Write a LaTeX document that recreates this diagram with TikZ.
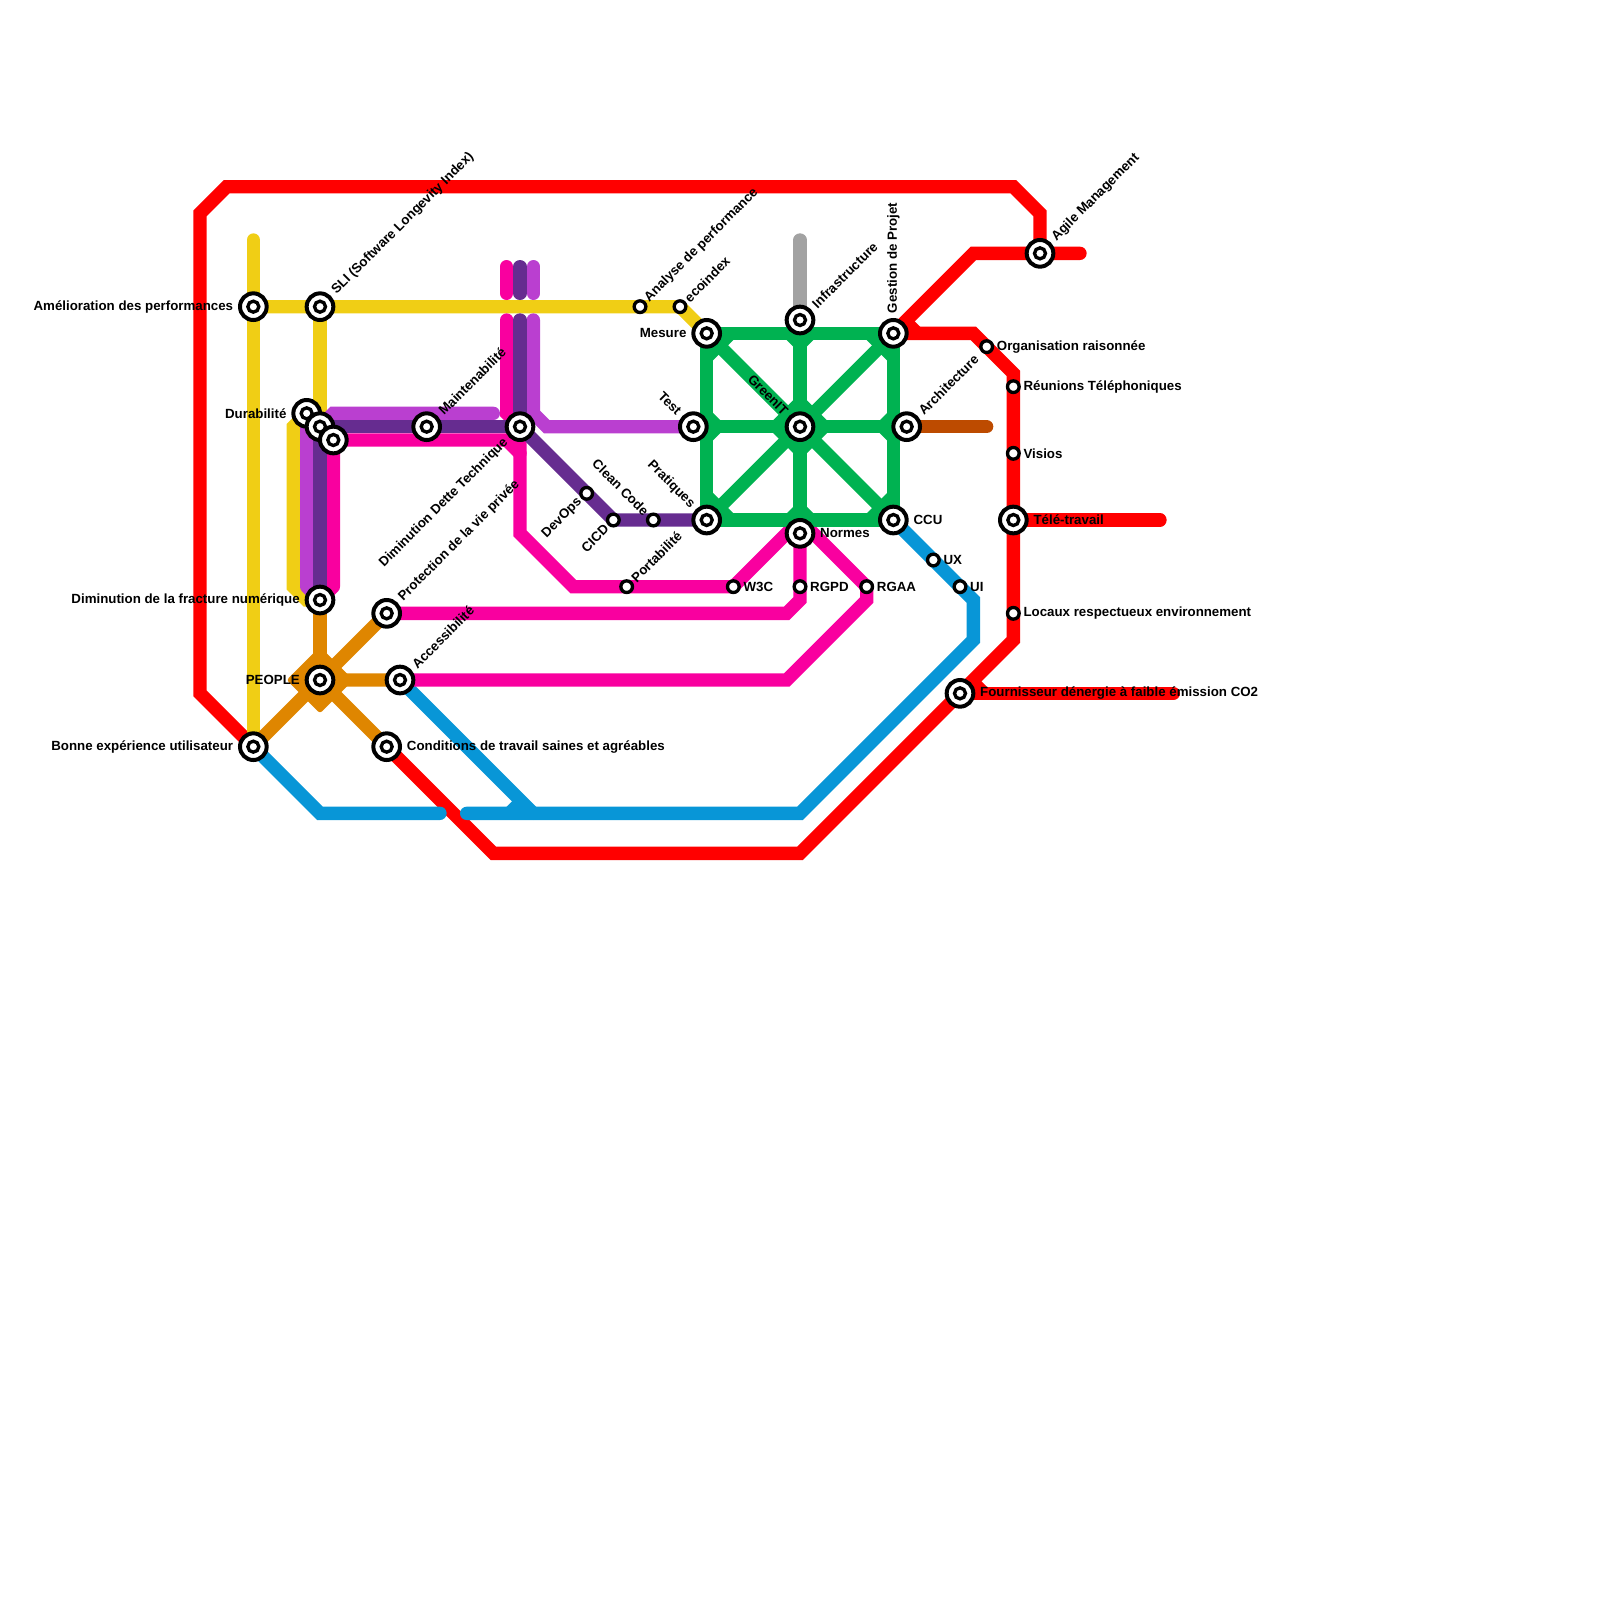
\documentclass[tikz,border=0pt]{standalone}
\usepackage{fontspec}
\setmainfont{Liberation Sans}
\usetikzlibrary{positioning,calc}
\definecolor{mapred}{HTML}{FF0000}
\definecolor{mapyellow}{HTML}{F0CE15}
\definecolor{maplilac}{HTML}{BA3FD0}
\definecolor{mapviolet}{HTML}{662C90}
\definecolor{mappink}{HTML}{F9009F}
\definecolor{mapblue}{HTML}{0896D7}
\definecolor{mapgreen}{HTML}{00B251}
\definecolor{maporange}{HTML}{DF8600}
\definecolor{mapbrown}{HTML}{BD4B00}
\definecolor{mapgrey}{HTML}{A2A2A2}
\pgfdeclarelayer{lines}
\pgfsetlayers{lines,main}
\tikzset{
  hub/.style={circle,draw=black,fill=white,line width=.12cm,minimum size=.8cm,inner sep=0pt,outer sep=0pt,
    path picture={\draw[line width=.1cm] (path picture bounding box.center) circle (.165cm);}},
  halt/.style={circle,draw=black,fill=white,line width=.1cm,minimum size=.35cm,inner sep=0pt,outer sep=0pt},
  track/.style={line width=.4cm,line cap=round},
  lab/.style={font=\bfseries\fontsize{11.35}{13}\selectfont,inner sep=0pt,text=black},
  hubright/.style={lab,anchor=west,xshift=.6cm},
  haltright/.style={lab,anchor=west,xshift=.3cm},
  hubleft/.style={lab,anchor=east,xshift=-.6cm},
  hubne/.style={lab,xshift=.42cm,yshift=.42cm,rotate=45,anchor=west},
  haltne/.style={lab,xshift=.2cm,yshift=.2cm,rotate=45,anchor=west},
  hubsw/.style={lab,xshift=-.42cm,yshift=-.42cm,rotate=45,anchor=east},
  haltsw/.style={lab,xshift=-.2cm,yshift=-.2cm,rotate=45,anchor=east},
  hubnw/.style={lab,xshift=-.42cm,yshift=.42cm,rotate=-45,anchor=east},
  haltnw/.style={lab,xshift=-.2cm,yshift=.2cm,rotate=-45,anchor=east}
}
\begin{document}
\begin{tikzpicture}[x=.4cm,y=-.4cm]
  \useasboundingbox (0,0) rectangle (120,120);

  % stations, grid of 120 x 120
  \foreach \n/\x/\y in {perf/19/23,sli/24/23,durab/23/31,dette/24/32,vie/25/33,maint/32/32,
      techn/39/32,fract/24/45,priv/29/46,people/24/51,acces/30/51,bonne/19/56,cond/29/56,
      test/52/32,mesure/53/25,prat/53/39,infra/60/24,green/60/32,normes/60/40,projet/67/25,
      archi/68/32,ccu/67/39,agile/78/19,tele/76/39,fourn/72/52}
    \node[hub] (\n) at (\x,\y) {};
  \foreach \n/\x/\y in {analyse/48/23,ecoin/51/23,devops/44/37,cicd/46/39,clean/49/39,
      porta/47/44,wtroisc/55/44,rgpd/60/44,rgaa/65/44,ux/70/42,ui/72/44,orga/74/26,
      reun/76/29,visio/76/34,locaux/76/46}
    \node[halt] (\n) at (\x,\y) {};

  \begin{pgfonlayer}{lines}
    % red
    \draw[track,mapred] (agile.center) -- (78,16) -- (76,14) -- (17,14) -- (15,16) -- (15,52) -- (bonne.center);
    \draw[track,mapred] (cond.center) -- (37,64) -- (60,64) -- (fourn.center) -- (76,48) -- (76,28) -- (73,25) -- (projet.center);
    \draw[track,mapred] (projet.center) -- (73,19) -- (81,19);
    \draw[track,mapred] (tele.center) -- (87,39);
    \draw[track,mapred] (fourn.center) -- (88,52);
    \fill[mapred] (projet.center) -- (68.25,23.75) -- (69.5,25) -- cycle;
    \fill[mapred] (fourn.center) -- (73.25,50.75) -- (74.5,52) -- cycle;

    % yellow
    \draw[track,mapyellow] (19,18) -- (bonne.center);
    \draw[track,mapyellow] (perf.center) -- (ecoin.center) -- (mesure.center);
    \draw[track,mapyellow] (sli.center) -- (dette.center);
    \draw[track,mapyellow] (durab.center) -- (22,32) -- (22,44) -- (23,45) -- (fract.center);

    % blue
    \draw[track,mapblue] (bonne.center) -- (24,61) -- (33,61);
    \draw[track,mapblue] (35,61) -- (60,61) -- (73,48) -- (73,45) -- (ccu.center);
    \draw[track,mapblue] (acces.center) -- (40,61);
    \fill[mapblue] (37.5,61) -- (38.75,59.75) -- (40,61) -- cycle;

    % lilac
    \draw[track,maplilac,line join=round] (durab.center) -- (23,44) -- (fract.center);
    \draw[track,maplilac] (dette.center) -- (25,31) -- (37,31);
    \draw[track,maplilac] (40,20) -- (40,22);
    \draw[track,maplilac] (40,24) -- (40,31) -- (41,32) -- (test.center);

    % pink
    \draw[track,mappink,line join=round] (vie.center) -- (25,44) -- (fract.center);
    \draw[track,mappink] (vie.center) -- (38,33) -- (39,34);
    \draw[track,mappink] (38,20) -- (38,22);
    \draw[track,mappink] (38,24) -- (38,31) -- (techn.center);
    \draw[track,mappink] (techn.center) -- (39,40) -- (43,44) -- (55,44) -- (59,40) -- (normes.center);
    \draw[track,mappink] (priv.center) -- (59,46) -- (60,45) -- (normes.center);
    \draw[track,mappink] (acces.center) -- (59,51) -- (65,45) -- (65,44) -- (61,40) -- (normes.center);

    % violet
    \draw[track,mapviolet] (fract.center) -- (dette.center) -- (techn.center);
    \draw[track,mapviolet] (39,20) -- (39,22);
    \draw[track,mapviolet] (39,24) -- (techn.center);
    \draw[track,mapviolet] (techn.center) -- (cicd.center) -- (prat.center);

    % orange
    \draw[track,maporange] (fract.center) -- (people.center);
    \draw[track,maporange] (priv.center) -- (people.center) -- (cond.center);
    \draw[track,maporange] (acces.center) -- (people.center) -- (bonne.center);
    \fill[maporange,rounded corners=.08cm] (people.center) ++(-2.5,0) -- ++(2.5,2.5) -- ++(2.5,-2.5) -- ++(-2.5,-2.5) -- cycle;

    % green
    \begin{scope}
      \clip (52.55,24.55) rectangle (67.45,39.45);
      \foreach \n in {mesure,projet,prat,ccu,infra,normes,test,archi,green}
        \fill[mapgreen] (\n.center) ++(-2.5,0) -- ++(2.5,2.5) -- ++(2.5,-2.5) -- ++(-2.5,-2.5) -- cycle;
    \end{scope}
    \draw[track,mapgreen,line cap=butt] (mesure.center) -- (projet.center) -- (ccu.center) -- (prat.center) -- cycle;
    \draw[track,mapgreen] (infra.center) -- (normes.center);
    \draw[track,mapgreen] (test.center) -- (archi.center);
    \draw[track,mapgreen] (mesure.center) -- (ccu.center);
    \draw[track,mapgreen] (projet.center) -- (prat.center);

    % grey and brown
    \draw[track,mapgrey] (60,18) -- (infra.center);
    \draw[track,mapbrown] (archi.center) -- (74,32);
  \end{pgfonlayer}

  % labels
  \node[hubleft] (perfL) at (perf) {Amélioration des performances};
  \node[hubne] (sliL) at (sli) {SLI (Software Longevity Index)};
  \node[hubleft] (durabL) at (durab) {Durabilité};
  \node[hubne] (maintL) at (maint) {Maintenabilité};
  \node[hubsw] (technL) at (techn) {Diminution Dette Technique};
  \node[hubleft] (fractL) at (fract) {Diminution de la fracture numérique};
  \node[hubne] (privL) at (priv) {Protection de la vie privée};
  \node[hubleft] (peopleL) at (people) {PEOPLE};
  \node[hubne] (accesL) at (acces) {Accessibilité};
  \node[hubleft] (bonneL) at (bonne) {Bonne expérience utilisateur};
  \node[hubright] (condL) at (cond) {Conditions de travail saines et agréables};
  \node[hubnw] (testL) at (test) {Test};
  \node[hubleft] (mesureL) at (mesure) {Mesure};
  \node[hubnw] (pratL) at (prat) {Pratiques};
  \node[hubne] (infraL) at (infra) {Infrastructure};
  \node[hubnw] (greenL) at (green) {GreenIT};
  \node[hubright] (normesL) at (normes) {Normes};
  \node[lab,yshift=.6cm,rotate=90,anchor=west] (projetL) at (projet) {Gestion de Projet};
  \node[hubne] (archiL) at (archi) {Architecture};
  \node[hubright] (ccuL) at (ccu) {CCU};
  \node[hubne] (agileL) at (agile) {Agile Management};
  \node[hubright] (teleL) at (tele) {Télé-travail};
  \node[hubright] (fournL) at (fourn) {Fournisseur dénergie à faible émission CO2};
  \node[haltne] (analyseL) at (analyse) {Analyse de performance};
  \node[haltne] (ecoinL) at (ecoin) {ecoindex};
  \node[haltsw] (devopsL) at (devops) {DevOps};
  \node[haltsw] (cicdL) at (cicd) {CICD};
  \node[haltnw] (cleanL) at (clean) {Clean Code};
  \node[haltne] (portaL) at (porta) {Portabilité};
  \node[haltright] (wtroiscL) at (wtroisc) {W3C};
  \node[haltright] (rgpdL) at (rgpd) {RGPD};
  \node[haltright] (rgaaL) at (rgaa) {RGAA};
  \node[haltright] (uxL) at (ux) {UX};
  \node[haltright] (uiL) at (ui) {UI};
  \node[haltright] (orgaL) at (orga) {Organisation raisonnée};
  \node[haltright] (reunL) at (reun) {Réunions Téléphoniques};
  \node[haltright] (visioL) at (visio) {Visios};
  \node[haltright] (locauxL) at (locaux) {Locaux respectueux environnement};
\end{tikzpicture}
\end{document}
